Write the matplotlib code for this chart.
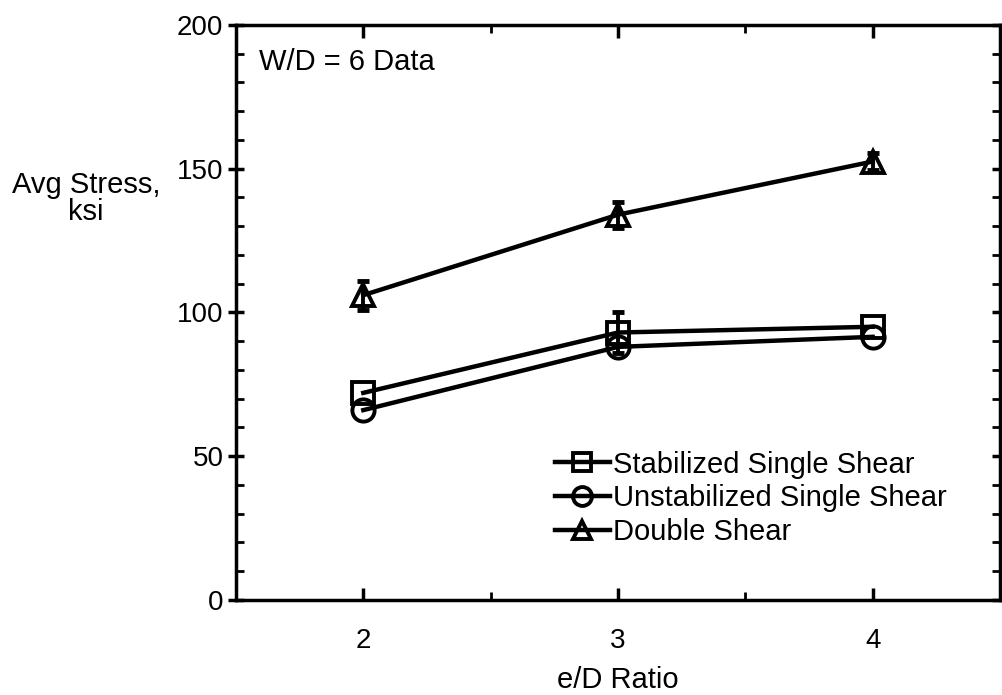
import matplotlib
matplotlib.use("Agg")
import matplotlib.pyplot as plt
from matplotlib.ticker import MultipleLocator

plt.rcParams['font.family'] = ['Liberation Sans', 'DejaVu Sans']

# data
ed_ratio = [2, 3, 4]
stab_single = [72, 93, 95]
unstab_single = [66, 88, 91.5]
double_shear = [106, 134, 152.5]

stab_err = [0, 7, 0]
unstab_err = [0, 0, 0]
double_err = [5, 4.5, 3]

labels = ["Stabilized Single Shear", "Unstabilized Single Shear", "Double Shear"]
markers = ["s", "o", "^"]

fig = plt.figure(figsize=(10.02, 6.95), dpi=100)
ax = fig.add_axes([0.2355, 0.137, 0.7625, 0.827])

series = [stab_single, unstab_single, double_shear]
errs = [stab_err, unstab_err, double_err]
for ys, es, lab, mk in zip(series, errs, labels, markers):
    ax.plot(ed_ratio, ys, color='black', lw=3.2, marker=mk, ms=16,
            mfc='none', mec='black', mew=2.8, label=lab)
    # only the points that show an error bar in the reference
    xe = [x for x, e in zip(ed_ratio, es) if e > 0]
    ye = [y for y, e in zip(ys, es) if e > 0]
    ee = [e for e in es if e > 0]
    if ee:
        ax.errorbar(xe, ye, yerr=ee, fmt='none', ecolor='black',
                    elinewidth=2.8, capsize=4, capthick=3.5)

ax.set_xlim(1.5, 4.5)
ax.set_ylim(0, 200)
ax.xaxis.set_major_locator(MultipleLocator(1))
ax.xaxis.set_minor_locator(MultipleLocator(0.5))
ax.yaxis.set_major_locator(MultipleLocator(50))
ax.yaxis.set_minor_locator(MultipleLocator(10))

for s in ax.spines.values():
    s.set_linewidth(2.5)

ax.tick_params(axis='x', which='major', direction='in', length=9, width=2.5,
               top=True, labelsize=20, pad=20)
ax.tick_params(axis='x', which='minor', direction='in', length=6, width=2, top=True)
ax.tick_params(axis='y', which='major', direction='inout', length=12, width=2.5,
               right=True, labelsize=20, pad=3)
ax.tick_params(axis='y', which='minor', direction='in', length=6, width=2, right=True)

ax.text(0.03, 0.935, "W/D = 6 Data", transform=ax.transAxes, fontsize=21,
        va='center', ha='left')

fig.text(0.086, 0.715, "Avg Stress,\nksi", fontsize=21, ha='center', va='center',
         linespacing=0.95)
ax.set_xlabel("e/D Ratio", fontsize=21, labelpad=9)

ax.legend(loc='upper left', bbox_to_anchor=(0.398, 0.285), frameon=False,
          fontsize=21, markerscale=0.85, handlelength=1.9, handletextpad=0.1,
          labelspacing=0.2, borderpad=0)

fig.savefig("out.png", dpi=100)
